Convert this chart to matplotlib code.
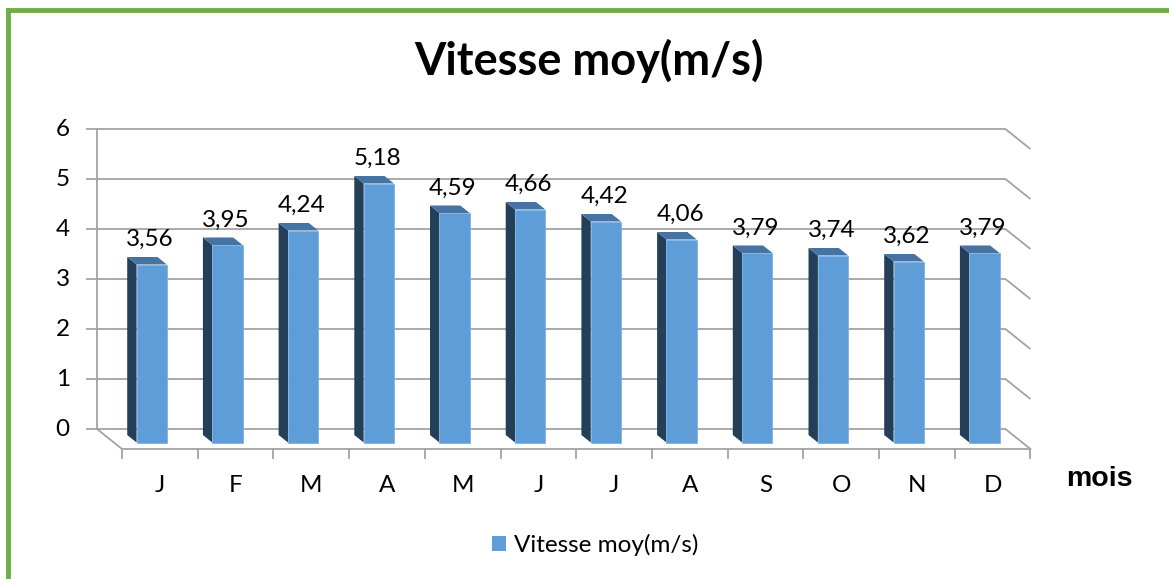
import matplotlib.pyplot as plt
from matplotlib.lines import Line2D
from matplotlib.patches import Polygon, Patch

plt.rcParams["font.family"] = ["Lato", "DejaVu Sans"]

months = ["J", "F", "M", "A", "M", "J", "J", "A", "S", "O", "N", "D"]
vitesse = [3.56, 3.95, 4.24, 5.18, 4.59, 4.66, 4.42, 4.06, 3.79, 3.74, 3.62, 3.79]
yticks = [0, 1, 2, 3, 4, 5, 6]
series_name = "Vitesse moy(m/s)"

W, H = 1169, 579
# pseudo 3d : depth 0 = front of the floor, depth 1 = back wall
DX = 25 / 75.7
DY = 20 / 50
BAR_FRONT, BAR_BACK = 0.325, 0.7
HALF = 0.2

FRONT = "#5e9dd8"
SIDE = "#243f58"
TOP = "#4574a3"
GRID = "#a3a3a3"
FS = 17.5


def proj(i, v, d):
    return (i - DX * d, v + DY * d)


fig = plt.figure(figsize=(W / 100, H / 100), dpi=100)
ax = fig.add_axes([0, 0, 1, 1])
ax.set_xlim(-159.85 / 75.7, (W - 159.85) / 75.7)
ax.set_ylim((449 - H) / 50, 449 / 50)
ax.axis("off")

n = len(months)
left, right = -0.5, n - 0.5

# back wall grid + right wall diagonals
for v in yticks:
    a = proj(left, v, 1)
    b = proj(right, v, 1)
    c = proj(right, v, 0)
    ax.plot([a[0], b[0], c[0]], [a[1], b[1], c[1]], color=GRID, lw=1.3, zorder=1,
            solid_capstyle="butt")
    ax.plot([a[0] - 0.13, a[0]], [a[1], a[1]], color=GRID, lw=1.3, zorder=1)
    ax.text(a[0] - 0.36, a[1], str(v), ha="right", va="center", fontsize=FS)

# left wall edge and floor
p0 = proj(left, 0, 1)
p6 = proj(left, yticks[-1], 1)
ax.plot([p0[0], p6[0]], [p0[1], p6[1]], color=GRID, lw=1.3, zorder=1)
f0 = proj(left, 0, 0)
f1 = proj(right, 0, 0)
ax.plot([p0[0], f0[0], f1[0]], [p0[1], f0[1], f1[1]], color=GRID, lw=1.3, zorder=1)
for k in range(n + 1):
    ax.plot([k - 0.5, k - 0.5], [0, -0.18], color=GRID, lw=1.3, zorder=1)

# bars
for i, v in enumerate(vitesse):
    xl, xr = i - HALF, i + HALF
    front = [proj(xl, 0, BAR_FRONT), proj(xr, 0, BAR_FRONT),
             proj(xr, v, BAR_FRONT), proj(xl, v, BAR_FRONT)]
    side = [proj(xl, 0, BAR_FRONT), proj(xl, 0, BAR_BACK),
            proj(xl, v, BAR_BACK), proj(xl, v, BAR_FRONT)]
    top = [proj(xl, v, BAR_FRONT), proj(xl, v, BAR_BACK),
           proj(xr, v, BAR_BACK), proj(xr, v, BAR_FRONT)]
    ax.add_patch(Polygon(side, closed=True, fc=SIDE, ec="none", zorder=3))
    ax.add_patch(Polygon(top, closed=True, fc=TOP, ec="none", zorder=3))
    ax.add_patch(Polygon(front, closed=True, fc=FRONT, ec="#7fb3e3", lw=0.6, zorder=4))
    lx, ly = proj(i, v, BAR_FRONT)
    ax.text(lx - 0.02, ly + 0.5, f"{v:.2f}".replace(".", ","), ha="center", va="center",
            fontsize=FS, zorder=5)

for i, m in enumerate(months):
    ax.text(i, -0.72, m, ha="center", va="center", fontsize=FS)

ax.text((1099 - 159.85) / 75.7, (449 - 479) / 50, "mois", ha="center", va="center",
        fontsize=20.5, fontweight="bold", family=["Liberation Sans", "DejaVu Sans"])

fig.text(589 / W, 1 - 75 / H, series_name, ha="center", va="baseline",
         fontsize=32.5, fontweight="bold")

ax.legend(handles=[Patch(fc=FRONT, ec="none", label=series_name)],
          loc="center", bbox_to_anchor=(595 / W, 1 - 545 / H), frameon=False,
          fontsize=FS, handlelength=0.6, handleheight=0.6, handletextpad=0.3)

# green frame (only top and left edges are inside the picture)
fig.add_artist(Line2D([7.5 / W, 7.5 / W], [0, 1 - 9.5 / H], transform=fig.transFigure,
                      color="#70ad47", lw=3.5, solid_capstyle="projecting"))
fig.add_artist(Line2D([7.5 / W, 1], [1 - 9.5 / H, 1 - 9.5 / H], transform=fig.transFigure,
                      color="#70ad47", lw=3.5, solid_capstyle="projecting"))

fig.savefig("out.png", dpi=100)
